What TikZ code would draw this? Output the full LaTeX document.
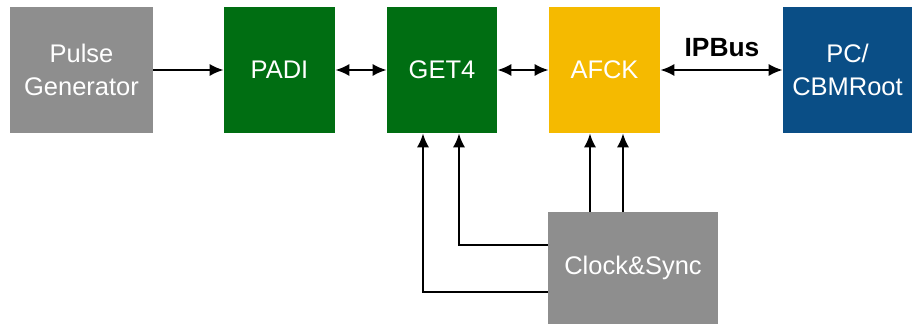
\documentclass[tikz,border=0pt]{standalone}
\usepackage{fontspec}
\setmainfont{Liberation Sans}
\usepackage{tikz}
\usetikzlibrary{arrows.meta}

\definecolor{boxgray}{RGB}{142,142,142}
\definecolor{boxgreen}{RGB}{0,110,18}
\definecolor{boxyellow}{RGB}{245,186,0}
\definecolor{boxblue}{RGB}{10,78,134}

\begin{document}
\begin{tikzpicture}[every node/.style={inner sep=0pt,align=center,font=\fontsize{14.5}{19}\selectfont},
  block/.style={text=white,minimum height=2.52cm},
  link/.style={line width=1.3pt,-{Latex[length=8pt,width=7pt]}},
  dlink/.style={line width=1.3pt,{Latex[length=8pt,width=7pt]}-{Latex[length=8pt,width=7pt]}}]
  \useasboundingbox (0,0) rectangle (18.36,6.48);

  \node[block,fill=boxgray,minimum width=2.86cm] (pulse) at (1.63,5.08) {Pulse\\Generator};
  \node[block,fill=boxgreen,minimum width=2.22cm] (padi) at (5.59,5.08) {PADI};
  \node[block,fill=boxgreen,minimum width=2.2cm] (get4) at (8.84,5.08) {GET4};
  \node[block,fill=boxyellow,minimum width=2.22cm] (afck) at (12.09,5.08) {AFCK};
  \node[block,fill=boxblue,minimum width=2.58cm] (pc) at (16.95,5.08) {PC/\\CBMRoot};
  \node[block,fill=boxgray,minimum width=3.4cm,minimum height=2.24cm] (clk) at (12.66,1.12) {Clock\&Sync};
  \node[font=\fontsize{15}{17}\bfseries] (ipbus) at (14.44,5.52) {IPBus};

  \draw[link] (pulse) -- (padi);
  \draw[dlink] (padi) -- (get4);
  \draw[dlink] (get4) -- (afck);
  \draw[dlink] (afck) -- (pc);

  \draw[link] (clk.north -| 11.8,0) -- (afck.south -| 11.8,0);
  \draw[link] (clk.north -| 12.46,0) -- (afck.south -| 12.46,0);
  \draw[link] (clk.west |- 0,1.58) -| (get4.south -| 9.18,0);
  \draw[link] (clk.west |- 0,0.64) -| (get4.south -| 8.46,0);
\end{tikzpicture}
\end{document}
